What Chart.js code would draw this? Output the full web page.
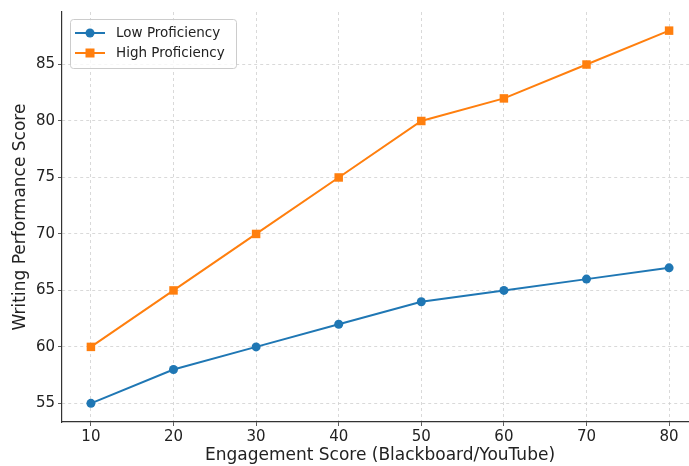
<!DOCTYPE html>
<html>
<head>
<meta charset="utf-8">
<script src="https://cdn.jsdelivr.net/npm/chart.js@4"></script>
<style>
  html, body { margin: 0; padding: 0; background: #fff; overflow: hidden; }
  #wrap { width: 689px; height: 466px; overflow: hidden; }
</style>
</head>
<body>
<div id="wrap"><canvas id="chart" width="710" height="466"></canvas></div>
<script>
var engagement = [10, 20, 30, 40, 50, 60, 70, 80];
var lowProficiency = [55, 58, 60, 62, 64, 65, 66, 67];
var highProficiency = [60, 65, 70, 75, 80, 82, 85, 88];
var xTicks = [10, 20, 30, 40, 50, 60, 70, 80];
var yTicks = [55, 60, 65, 70, 75, 80, 85];

var font = "'DejaVu Sans', sans-serif";

function toPoints(xs, ys) {
  return xs.map(function (x, i) { return { x: x, y: ys[i] }; });
}

// legend drawn inside the plot, top-left, matplotlib style
var insideLegend = {
  id: 'insideLegend',
  afterDraw: function (chart) {
    var ctx = chart.ctx;
    var area = chart.chartArea;
    var x0 = area.left + 8, y0 = area.top + 7, w = 166, h = 49;
    ctx.save();
    ctx.fillStyle = 'rgba(255,255,255,0.8)';
    ctx.strokeStyle = '#cccccc';
    ctx.lineWidth = 1;
    ctx.beginPath();
    ctx.roundRect(x0 + 0.5, y0 + 0.5, w, h, 3);
    ctx.fill();
    ctx.stroke();
    chart.data.datasets.forEach(function (ds, i) {
      var cy = y0 + 14 + i * 20;
      ctx.strokeStyle = ds.borderColor;
      ctx.lineWidth = 2;
      ctx.beginPath();
      ctx.moveTo(x0 + 5, cy);
      ctx.lineTo(x0 + 35, cy);
      ctx.stroke();
      ctx.fillStyle = ds.backgroundColor;
      if (ds.pointStyle === 'rect') {
        ctx.fillRect(x0 + 20 - 4.5, cy - 4.5, 9, 9);
      } else {
        ctx.beginPath();
        ctx.arc(x0 + 20, cy, 4.5, 0, Math.PI * 2);
        ctx.fill();
      }
      ctx.fillStyle = '#222';
      ctx.font = '13.5px ' + font;
      ctx.textBaseline = 'middle';
      ctx.fillText(ds.label, x0 + 46, cy);
    });
    ctx.restore();
  }
};

var ctx = document.getElementById('chart');
new Chart(ctx, {
  type: 'line',
  data: {
    datasets: [
      {
        label: 'Low Proficiency',
        data: toPoints(engagement, lowProficiency),
        borderColor: '#1f77b4',
        backgroundColor: '#1f77b4',
        borderWidth: 2,
        pointStyle: 'circle',
        pointRadius: 4.5,
        pointBorderWidth: 0,
        pointHoverRadius: 4.5
      },
      {
        label: 'High Proficiency',
        data: toPoints(engagement, highProficiency),
        borderColor: '#ff7f0e',
        backgroundColor: '#ff7f0e',
        borderWidth: 2,
        pointStyle: 'rect',
        pointRadius: 6,
        pointBorderWidth: 0,
        pointHoverRadius: 6
      }
    ]
  },
  options: {
    responsive: false,
    animation: false,
    layout: { padding: { top: 11, right: 12, left: 0, bottom: 0 } },
    plugins: { legend: { display: false }, tooltip: { enabled: false } },
    scales: {
      x: {
        type: 'linear',
        min: 6.5,
        max: 83.5,
        afterBuildTicks: function (s) { s.ticks = xTicks.map(function (v) { return { value: v }; }); },
        afterFit: function (s) { s.height = 44; },
        grid: { color: '#d0d0d0', tickColor: '#333', tickLength: 4, lineWidth: 0.8 },
        border: { color: '#333', width: 1.2, dash: [3, 3] },
        ticks: { color: '#222', font: { family: font, size: 15 }, padding: 2, maxRotation: 0 },
        title: { display: true, text: 'Engagement Score (Blackboard/YouTube)', color: '#222', font: { family: font, size: 17 }, padding: { top: 0, bottom: 0 } }
      },
      y: {
        min: 53.35,
        max: 89.65,
        afterBuildTicks: function (s) { s.ticks = yTicks.map(function (v) { return { value: v }; }); },
        afterFit: function (s) { s.width = 62; },
        grid: { color: '#d0d0d0', tickColor: '#333', tickLength: 4, lineWidth: 0.8 },
        border: { color: '#333', width: 1.2, dash: [3, 3] },
        ticks: { color: '#222', font: { family: font, size: 15 }, padding: 3 },
        title: { display: true, text: 'Writing Performance Score', color: '#222', font: { family: font, size: 17 }, padding: { top: 10, bottom: 0 } }
      }
    }
  },
  plugins: [insideLegend]
});
</script>
</body>
</html>
